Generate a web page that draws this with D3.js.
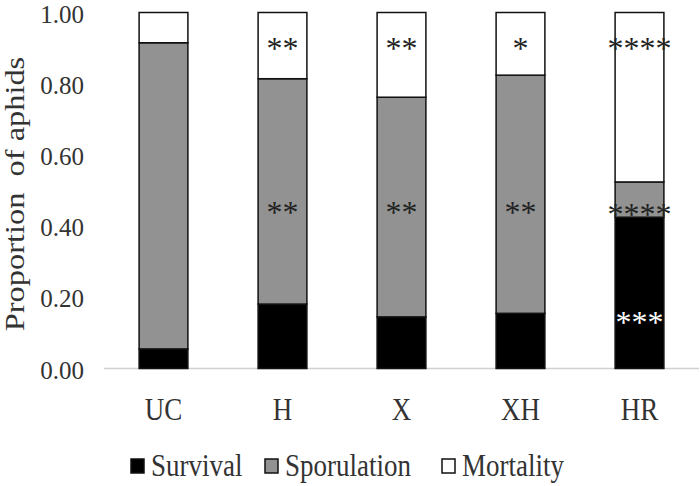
<!DOCTYPE html>
<html>
<head>
<meta charset="utf-8">
<script src="https://cdn.jsdelivr.net/npm/d3@7"></script>
<style>
  body { margin: 0; background: #fff; }
  text { font-family: "Liberation Serif", "Times New Roman", serif; fill: #333; }
</style>
</head>
<body>
<svg width="700" height="486"></svg>
<script>
const categories = ['UC', 'H', 'X', 'XH', 'HR'];
const survival = [0.055, 0.181, 0.145, 0.155, 0.425];
const sporulation = [0.86, 0.633, 0.617, 0.669, 0.099];
const mortality = categories.map((c, i) => 1 - survival[i] - sporulation[i]);
const seriesNames = ['Survival', 'Sporulation', 'Mortality'];
const yTicks = [0, 0.2, 0.4, 0.6, 0.8, 1.0];

// significance stars: [category, label position (proportion), text, white?]
const stars = [
  ['H', 0.92, '**', false], ['H', 0.46, '**', false],
  ['X', 0.92, '**', false], ['X', 0.46, '**', false],
  ['XH', 0.92, '*', false], ['XH', 0.46, '**', false],
  ['HR', 0.92, '****', false], ['HR', 0.455, '****', false], ['HR', 0.15, '***', true],
];

const svg = d3.select('svg');
const fs = 27;
const stretch = 1.2; // the original art is a bit taller than wide

const x = d3.scaleBand()
  .domain(categories)
  .range([104, 699])
  .paddingInner(0.59)
  .paddingOuter(0.295);

const y = d3.scaleLinear()
  .domain([0, 1])
  .range([368.5, 12.5]);

const color = d3.scaleOrdinal()
  .domain(seriesNames)
  .range(['#000000', '#929292', '#ffffff']);

const rows = categories.map((c, i) => ({
  cat: c,
  Survival: survival[i],
  Sporulation: sporulation[i],
  Mortality: mortality[i],
}));

const layers = d3.stack().keys(seriesNames)(rows);

// baseline
svg.append('line')
  .attr('x1', 104).attr('x2', 699)
  .attr('y1', y(0)).attr('y2', y(0))
  .attr('stroke', '#d0d0d0')
  .attr('stroke-width', 1.5);

svg.append('g')
  .selectAll('g')
  .data(layers)
  .enter()
  .append('g')
  .attr('fill', d => color(d.key))
  .selectAll('rect')
  .data(d => d)
  .enter()
  .append('rect')
  .attr('x', d => x(d.data.cat))
  .attr('y', d => y(d[1]))
  .attr('width', x.bandwidth())
  .attr('height', d => y(d[0]) - y(d[1]))
  .attr('stroke', '#111')
  .attr('stroke-width', 1.5);

// y tick labels
svg.append('g')
  .selectAll('text')
  .data(yTicks)
  .enter()
  .append('text')
  .attr('x', 84)
  .attr('y', d => y(d) + 10)
  .attr('text-anchor', 'end')
  .attr('font-size', 25)
  .text(d3.format('.2f'));

// category labels
svg.append('g')
  .selectAll('text')
  .data(categories)
  .enter()
  .append('text')
  .attr('transform', d => `translate(${x(d) + x.bandwidth() / 2},420) scale(1,${stretch})`)
  .attr('text-anchor', 'middle')
  .attr('font-size', fs)
  .text(d => d);

// y title
svg.append('text')
  .attr('transform', `translate(24,194) rotate(-90) scale(${stretch},1)`)
  .attr('text-anchor', 'middle')
  .attr('font-size', fs)
  .style('white-space', 'pre')
  .text('Proportion  of aphids');

// stars
svg.append('g')
  .selectAll('text')
  .data(stars)
  .enter()
  .append('text')
  .attr('x', d => x(d[0]) + x.bandwidth() / 2)
  .attr('y', d => y(d[1]) + 18)
  .attr('text-anchor', 'middle')
  .attr('font-size', 32)
  .style('fill', d => d[3] ? '#fff' : '#222')
  .text(d => d[2]);

// legend
const legendX = [131, 265, 442];
const legend = svg.append('g')
  .selectAll('g')
  .data(seriesNames)
  .enter()
  .append('g')
  .attr('transform', (d, i) => `translate(${legendX[i]},459)`);

legend.append('rect')
  .attr('width', 13).attr('height', 14)
  .attr('fill', d => color(d))
  .attr('stroke', '#111')
  .attr('stroke-width', 1.5);

legend.append('text')
  .attr('transform', `translate(20,17) scale(1,${stretch})`)
  .attr('font-size', fs)
  .text(d => d);
</script>
</body>
</html>
